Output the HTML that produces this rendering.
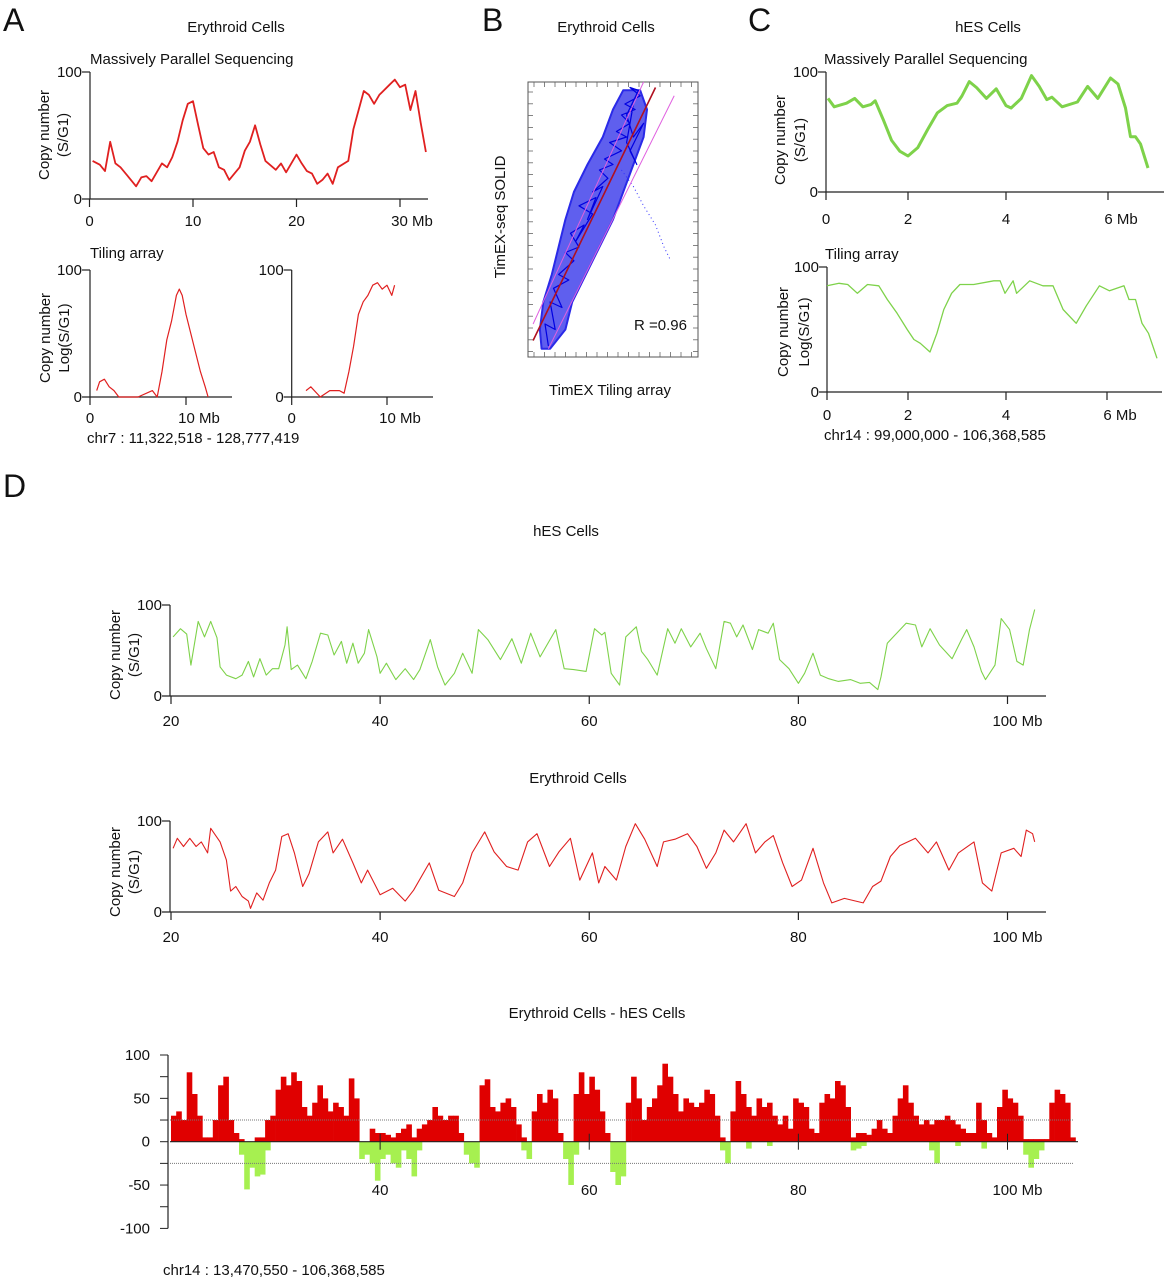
<!DOCTYPE html>
<html><head><meta charset="utf-8"><style>
html,body{margin:0;padding:0;background:#fff;}
svg{display:block;font-family:"Liberation Sans",sans-serif;}
</style></head><body>
<svg id="fig" width="1167" height="1280" viewBox="0 0 1167 1280" xmlns="http://www.w3.org/2000/svg">
<g font-size="15" fill="#111">
<text x="3" y="31" font-size="32">A</text>
<text x="236" y="32" text-anchor="middle">Erythroid Cells</text>
<text x="90" y="64">Massively Parallel Sequencing</text>
<text x="90" y="258">Tiling array</text>
<text x="87" y="443">chr7 :  11,322,518 - 128,777,419</text>
<text transform="translate(49,135) rotate(-90)" text-anchor="middle">Copy number</text>
<text transform="translate(68,135) rotate(-90)" text-anchor="middle">(S/G1)</text>
<text transform="translate(50,338) rotate(-90)" text-anchor="middle">Copy number</text>
<text transform="translate(69,338) rotate(-90)" text-anchor="middle">Log(S/G1)</text>

<text x="482" y="31" font-size="32">B</text>
<text x="606" y="32" text-anchor="middle">Erythroid Cells</text>
<text transform="translate(505,217) rotate(-90)" text-anchor="middle">TimEX-seq SOLID</text>
<text x="610" y="395" text-anchor="middle">TimEX Tiling array</text>

<text x="748" y="31" font-size="32">C</text>
<text x="988" y="32" text-anchor="middle">hES Cells</text>
<text x="824" y="64">Massively Parallel Sequencing</text>
<text x="825" y="259">Tiling array</text>
<text x="824" y="440">chr14 : 99,000,000 - 106,368,585</text>
<text transform="translate(785,140) rotate(-90)" text-anchor="middle">Copy number</text>
<text transform="translate(805,140) rotate(-90)" text-anchor="middle">(S/G1)</text>
<text transform="translate(788,332) rotate(-90)" text-anchor="middle">Copy number</text>
<text transform="translate(809,332) rotate(-90)" text-anchor="middle">Log(S/G1)</text>

<text x="3" y="497" font-size="32">D</text>
<text x="566" y="536" text-anchor="middle">hES Cells</text>
<text transform="translate(120,655) rotate(-90)" text-anchor="middle">Copy number</text>
<text transform="translate(139,655) rotate(-90)" text-anchor="middle">(S/G1)</text>
<text x="578" y="783" text-anchor="middle">Erythroid Cells</text>
<text transform="translate(120,872) rotate(-90)" text-anchor="middle">Copy number</text>
<text transform="translate(139,872) rotate(-90)" text-anchor="middle">(S/G1)</text>
<text x="597" y="1018" text-anchor="middle">Erythroid Cells - hES Cells</text>
<text x="163" y="1275">chr14 : 13,470,550 - 106,368,585</text>
</g>
</svg>
<script>
// ---- Panel A data ----
const aSeqX = [0.3,1,1.5,2,2.5,3,4,4.5,5,5.5,6,7,7.5,8,8.5,9,9.5,10,10.5,11,11.5,12,12.5,13,13.5,14,14.5,15,15.5,16,16.5,17,18,18.5,19,20,20.5,21,21.5,22,22.5,23,23.5,24,25,25.5,26,26.5,27,27.5,28,29,29.5,30,30.5,31,31.5,32,32.5];
const aSeqY = [30,27,22,45,28,25,15,10,17,18,14,28,25,33,45,62,75,77,58,40,35,37,25,23,15,20,25,38,45,58,43,30,23,28,21,35,28,22,20,12,15,20,12,25,30,55,70,85,82,75,82,90,94,88,90,70,85,60,37];
const aTil1X = [0.7,1,1.5,2,2.5,3,4,5,6.5,7,7.5,8,8.5,9,9.3,9.6,10,10.5,11,11.5,12,12.3];
const aTil1Y = [5,12,14,8,5,0,0,0,5,0,20,45,60,80,85,80,65,50,35,20,8,0];
const aTil2X = [1.5,2,3,4,5,5.5,6,6.5,7,7.5,8,8.5,9,9.5,10,10.5,10.8];
const aTil2Y = [5,8,0,5,5,3,20,40,65,75,80,88,90,85,88,80,88];
// ---- Panel B data ----
const bBandY = [3,10,20,30,40,50,60,70,80,90,97];
const bBandL = [8,7,9,14,18,22,27,35,44,50,56];
const bBandR = [13,22,26,34,42,50,56,62,68,70,66];
const bTraceX = [12,10,16,13,20,15,24,18,27,22,30,25,33,28,38,30,40,35,44,38,47,42,50,45,55,48,58,52,60,55,63,57,66,60,65,58,62,68,60,64,58,62];
const bTraceY = [4,12,10,20,18,25,28,30,35,38,40,45,48,42,52,55,58,50,62,60,65,68,70,72,75,78,80,82,85,88,90,92,95,98,97,88,80,85,75,70,78,92];
const bOutX = [55,62,68,75,80,84];
const bOutY = [68,62,55,48,40,35];
// ---- Panel C data ----
const cSeqX = [0.05,0.2,0.5,0.7,0.9,1.1,1.2,1.4,1.6,1.8,2.0,2.2,2.4,2.6,2.8,3.0,3.1,3.25,3.4,3.6,3.8,4.0,4.1,4.3,4.5,4.65,4.8,4.9,5.1,5.4,5.6,5.8,6.05,6.2,6.35,6.45,6.55,6.65,6.8];
const cSeqY = [78,71,74,78,71,73,76,60,43,34,30,37,52,66,72,74,80,92,87,78,86,72,70,78,97,88,77,79,71,75,88,78,95,90,70,46,46,40,20];
const cTilX = [0,0.3,0.51,0.75,1.0,1.28,1.49,1.73,1.98,2.12,2.25,2.45,2.59,2.73,2.89,3.06,3.34,3.75,3.88,3.98,4.14,4.21,4.47,4.73,4.93,5.13,5.39,5.59,5.85,6.05,6.34,6.44,6.57,6.70,6.83,7.0];
const cTilY = [85,87,86,79,86,85,74,63,50,42,39,32,47,66,79,86,86,89,89,79,89,79,89,85,85,66,55,69,85,81,85,74,74,55,47,27];
// ---- Panel D data ----
const dHesX = [20.2,20.9,21.5,21.9,22.6,23.2,23.8,24.4,24.7,25.3,26.2,26.8,27.4,27.9,28.5,29.1,29.7,30.3,30.9,31.1,31.5,32.1,32.9,33.5,34.3,35.0,35.6,36.3,36.8,37.4,37.9,38.5,38.9,39.7,40.0,40.6,41.5,42.4,43.2,43.8,44.8,45.5,46.2,47.1,47.9,48.8,49.4,50.3,51.5,52.6,53.5,54.4,55.3,56.8,57.6,58.5,59.7,60.5,61.2,61.5,62.1,62.9,63.5,64.5,65.0,65.6,66.5,67.5,68.2,68.8,69.7,70.6,71.2,72.1,72.9,73.5,74.1,74.7,75.6,76.2,77.1,77.6,78.2,79.1,80.0,80.6,81.4,82.1,82.9,83.8,85.0,85.9,86.8,87.6,87.9,88.5,89.4,90.3,91.2,91.8,92.6,93.5,94.7,95.6,96.1,96.8,97.5,97.9,98.8,99.4,100.2,100.9,101.5,102.1,102.6];
const dHesY = [65,74,68,34,82,65,82,64,32,23,19,23,38,21,41,23,30,30,56,76,29,34,19,38,69,67,45,60,36,58,36,47,73,43,25,36,18,30,18,29,62,32,12,25,47,25,73,62,40,63,36,69,43,73,30,29,27,74,67,70,25,12,65,76,49,40,23,74,58,74,54,69,52,30,82,80,65,78,51,73,69,80,40,30,14,25,47,23,19,16,18,14,15,7,21,58,69,80,78,54,74,56,41,62,73,54,27,18,34,85,73,38,34,73,95];
const dEryX = [20.2,20.6,21.2,21.8,22.4,22.9,23.5,23.8,24.7,25.3,25.7,26.2,26.8,27.4,27.6,28.2,28.8,29.4,30.0,30.6,31.2,31.8,32.6,33.2,34.1,35.0,35.5,36.4,37.4,38.2,38.8,40.0,41.2,42.4,43.2,44.7,45.6,47.1,47.9,48.8,50.0,50.9,52.1,53.2,54.1,55.0,56.2,57.1,58.2,59.1,60.3,60.9,61.5,62.6,63.5,64.4,65.3,66.5,67.1,68.2,69.4,70.3,71.2,72.1,72.9,73.8,75.0,75.9,76.8,77.6,78.5,79.4,80.3,81.4,82.4,83.2,84.4,86.2,87.1,87.9,88.8,89.7,91.2,92.4,93.2,94.4,95.3,96.8,97.6,98.5,99.4,100.6,101.3,101.8,102.4,102.6];
const dEryY = [70,81,72,81,72,77,65,92,77,57,23,28,17,12,4,21,13,32,46,83,86,65,28,42,77,88,65,80,54,32,46,19,26,12,24,54,24,17,32,65,88,66,50,46,77,86,50,66,81,35,65,32,50,35,72,97,80,50,77,80,86,72,48,65,90,77,97,65,77,84,54,28,35,70,32,10,15,10,28,34,61,73,81,65,77,46,65,77,32,23,65,70,61,90,86,77];
const diffStart = 20, diffStep = 0.5;
const diffRed = [30,35,25,80,55,30,5,5,25,65,75,25,10,3,0,0,5,5,25,30,60,75,65,80,70,40,30,45,65,50,35,45,40,30,73,50,0,0,15,10,10,8,5,10,15,20,5,15,20,25,40,30,25,30,30,10,0,0,0,65,72,40,35,45,50,40,20,5,0,35,55,45,60,50,10,0,0,55,80,55,75,60,35,10,0,0,0,45,75,50,25,40,50,65,90,75,55,35,50,45,40,45,60,55,30,5,0,35,70,55,40,30,50,40,45,30,20,30,15,50,45,40,15,10,45,55,50,70,65,40,5,10,10,8,15,25,15,10,30,50,65,45,30,20,25,20,25,25,30,25,20,15,10,10,45,25,10,5,40,60,50,45,30,3,3,3,3,3,45,60,55,45,5];
const greenMb = [26.5,27,27.5,28,28.5,29,38,38.5,39,39.5,40,40.5,41,41.5,42,42.5,43,43.5,48,48.5,49,53.5,54,57.5,58,58.5,62,62.5,63,72.5,73,75,77,85,85.5,86,92.5,93,95,97.5,101.5,102,102.5,103];
const greenVal = [15,55,30,40,38,10,20,15,25,45,20,15,25,30,10,20,40,10,15,25,30,10,20,20,50,15,35,50,40,10,25,8,5,10,8,5,10,25,5,8,15,30,20,10];
const xTicksA = [0,10,20,30], xTicksC = [0,2,4,6], xTicksD = [20,40,60,80,100], xTicksDiff = [40,60,80,100];
const yTicksDiff = [100,50,0,-50,-100];

const NS = "http://www.w3.org/2000/svg";
const svg = document.getElementById('fig');
function mk(tag, attrs, parent){ const e=document.createElementNS(NS,tag); for(const k in attrs) e.setAttribute(k,attrs[k]); (parent||svg).appendChild(e); return e; }
function lin(d0,d1,r0,r1){ return v => r0+(v-d0)*(r1-r0)/(d1-d0); }
function pwl(ds,rs){ return v=>{ let i=0; while(i<ds.length-2 && v>ds[i+1]) i++; return rs[i]+(v-ds[i])*(rs[i+1]-rs[i])/(ds[i+1]-ds[i]); }; }
function label(x,y,t,anchor,size){ const e=mk('text',{x:x,y:y,'text-anchor':anchor||'middle','font-size':size||15,fill:'#111'}); e.textContent=t; return e; }

function linePlot(name, xs, ys, xArr, yArr, ticks, tickLabels, color, sw, ax){
  const g = mk('g',{});
  
  
  const yax = mk('line',{x1:ax.x0,y1:ax.yTop,x2:ax.x0,y2:ax.yBot,stroke:'#222','stroke-width':1.2},g);
  
  
  const xax = mk('line',{x1:ax.x0-8,y1:ax.yBot,x2:ax.xEnd,y2:ax.yBot,stroke:'#222','stroke-width':1.2},g);
  
  
  mk('line',{x1:ax.x0-8,y1:ax.yTop,x2:ax.x0,y2:ax.yTop,stroke:'#222','stroke-width':1.2},g);
  ticks.forEach((t,i)=>{ const px=xs(t);
    mk('line',{x1:px,y1:ax.yBot,x2:px,y2:ax.yBot+8,stroke:'#222','stroke-width':1.2},g);
    const tl = label(px+(tickLabels[i].length>3?(ax.mbShift||16):0),ax.yBot+ax.lblDy,tickLabels[i],'middle',ax.fs||15);
    
    
  });
  const y100 = label(ax.x0-8,ax.yTop+5,'100','end',ax.fs||15);
  
  
  const y0 = label(ax.x0-8,ax.yBot+5,'0','end',ax.fs||15);
  
  
  const pts = xArr.map((x,i)=>xs(x).toFixed(1)+','+ys(yArr[i]).toFixed(1)).join(' ');
  const pl = mk('polyline',{points:pts,fill:'none',stroke:color,'stroke-width':sw,'stroke-linejoin':'round'},g);
  
  
}

const RED='#e02020', GREEN='#7ed24a';
linePlot('panel-a-seq-chart', lin(0,30,89.5,400), lin(0,100,199,72), aSeqX, aSeqY, xTicksA, ['0','10','20','30 Mb'], RED, 1.8, {x0:90,xEnd:428,yTop:72,yBot:199,lblDy:27,mbShift:12});
linePlot('panel-a-tiling-left', lin(0,10,90,186), lin(0,100,397,270), aTil1X, aTil1Y, [0,10], ['0','10 Mb'], RED, 1.2, {x0:90,xEnd:232,yTop:270,yBot:397,lblDy:26,mbShift:13});
linePlot('panel-a-tiling-right', lin(0,10,291.7,387), lin(0,100,397,270), aTil2X, aTil2Y, [0,10], ['0','10 Mb'], RED, 1.2, {x0:291.7,xEnd:433,yTop:270,yBot:397,lblDy:26,mbShift:13});
linePlot('panel-c-seq-chart', pwl([0,2,4,6,8],[826,908,1006,1108,1208]), lin(0,100,192,72), cSeqX, cSeqY, xTicksC, ['0','2','4','6 Mb'], GREEN, 3, {x0:826,xEnd:1164,yTop:72,yBot:192,lblDy:32,mbShift:13});
linePlot('panel-c-tiling-chart', pwl([0,2,4,6,8],[827,908,1006,1107,1207]), lin(0,100,392,267), cTilX, cTilY, xTicksC, ['0','2','4','6 Mb'], GREEN, 1.3, {x0:827,xEnd:1162,yTop:267,yBot:392,lblDy:28,mbShift:13});
const dX = lin(20,100,171,1007.5);
linePlot('panel-d-hes-chart', dX, lin(0,100,696,605), dHesX, dHesY, xTicksD, ['20','40','60','80','100 Mb'], GREEN, 1.1, {x0:170,xEnd:1046,yTop:605,yBot:696,lblDy:30,mbShift:10,fs:15});
linePlot('panel-d-ery-chart', dX, lin(0,100,912,821), dEryX, dEryY, xTicksD, ['20','40','60','80','100 Mb'], RED, 1.1, {x0:170,xEnd:1046,yTop:821,yBot:912,lblDy:30,mbShift:10,fs:15});

(function(){
  const g = mk('g',{});
  
  
  const ys = lin(0,100,1141.7,1055);
  const bw = dX(diffStep)-dX(0);
  diffRed.forEach((v,i)=>{ const x=dX(diffStart+i*diffStep);
    const r=mk('rect',{x:x.toFixed(1),y:ys(v).toFixed(1),width:(bw+0.4).toFixed(1),height:(ys(0)-ys(v)+0.01).toFixed(1),fill:'#e00000'},g);
    
    
  });
  greenMb.forEach((m,i)=>{ const x=dX(m);
    const r=mk('rect',{x:x.toFixed(1),y:ys(0).toFixed(1),width:(bw+0.4).toFixed(1),height:(ys(-greenVal[i])-ys(0)).toFixed(1),fill:'#a6f050'},g);
    
    
  });
  mk('line',{x1:170,y1:ys(25),x2:1073,y2:ys(25),stroke:'#777','stroke-width':1,'stroke-dasharray':'1,1'},g);
  mk('line',{x1:170,y1:ys(-25),x2:1073,y2:ys(-25),stroke:'#777','stroke-width':1,'stroke-dasharray':'1,1'},g);
  const z = mk('line',{x1:170,y1:ys(0),x2:1078,y2:ys(0),stroke:'#222','stroke-width':1.2},g);
  
  
  const ya = mk('line',{x1:168,y1:ys(100),x2:168,y2:ys(-100),stroke:'#222','stroke-width':1.2},g);
  
  
  for(let v=-100; v<=100; v+=25){ mk('line',{x1:160,y1:ys(v),x2:168,y2:ys(v),stroke:'#222','stroke-width':1},g); }
  yTicksDiff.forEach(v=>{ const t=label(150,ys(v)+5,String(v),'end',15);
    
    
  });
  xTicksDiff.forEach(t=>{ const px=dX(t);
    mk('line',{x1:px,y1:ys(0)-8,x2:px,y2:ys(0)+8,stroke:'#222','stroke-width':1},g);
    const l=label(px+(t===100?10:0),1195,t===100?'100 Mb':String(t),'middle',15);
    
    
  });
})();

(function(){
  const g = mk('g',{});
  
  
  const xs = lin(0,100,528,698), ys = lin(0,100,357,82);
  const box = mk('rect',{x:528,y:82,width:170,height:275,fill:'none',stroke:'#555','stroke-width':1},g);
  
  
  for(let x=534; x<698; x+=10.5){ mk('line',{x1:x,y1:357,x2:x,y2:352,stroke:'#666','stroke-width':0.8},g); mk('line',{x1:x,y1:82,x2:x,y2:87,stroke:'#666','stroke-width':0.8},g); }
  for(let y=92; y<357; y+=11.8){ mk('line',{x1:528,y1:y,x2:533,y2:y,stroke:'#666','stroke-width':0.8},g); mk('line',{x1:698,y1:y,x2:693,y2:y,stroke:'#666','stroke-width':0.8},g); }
  const left = bBandY.map((y,i)=>xs(bBandL[i]).toFixed(1)+','+ys(y).toFixed(1));
  const right = bBandY.map((y,i)=>xs(bBandR[i]).toFixed(1)+','+ys(y).toFixed(1)).reverse();
  const band = mk('polygon',{points:left.concat(right).join(' '),fill:'#2a2ae8','fill-opacity':0.75,stroke:'#2a2ae8','stroke-width':2,'stroke-linejoin':'round'},g);
  
  
  const pts = bTraceX.map((x,i)=>xs(x).toFixed(1)+','+ys(bTraceY[i]).toFixed(1)).join(' ');
  const p=mk('polyline',{points:pts,fill:'none',stroke:'#0000e0','stroke-width':1.2,'stroke-linejoin':'round'},g);
  
  
  const op = bOutX.map((x,i)=>xs(x).toFixed(1)+','+ys(bOutY[i]).toFixed(1)).join(' ');
  const o=mk('polyline',{points:op,fill:'none',stroke:'#3030ff','stroke-width':1,'stroke-dasharray':'1,3'},g);
  
  
  mk('line',{x1:xs(3),y1:ys(12),x2:xs(68),y2:ys(100),stroke:'#e060e0','stroke-width':1},g);
  mk('line',{x1:xs(12),y1:ys(3),x2:xs(86),y2:ys(95),stroke:'#e060e0','stroke-width':1},g);
  const fit=mk('line',{x1:xs(3),y1:ys(6),x2:xs(75),y2:ys(98),stroke:'#b01020','stroke-width':1.6},g);
  
  
  const r = label(634,330,'R =0.96','start',15);
  
  
})();
</script>
</body></html>
